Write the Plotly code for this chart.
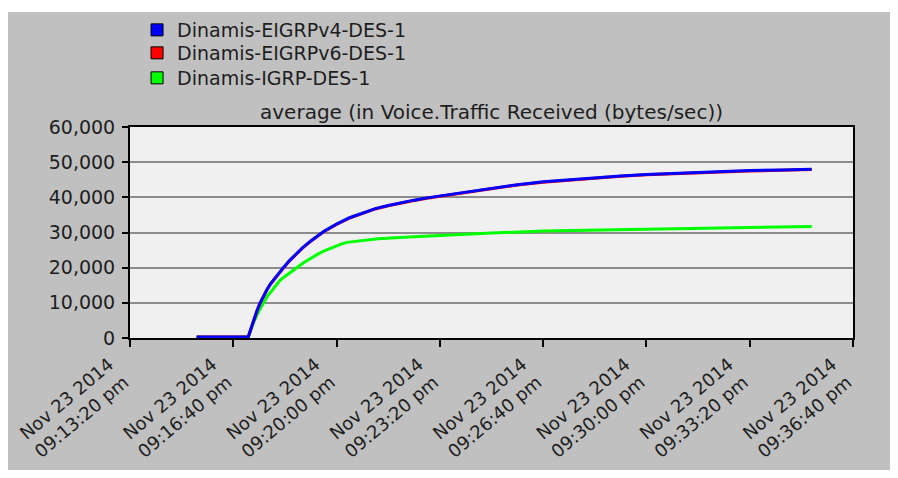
import pandas as pd
import plotly.graph_objects as go

# ---- data ----
start_time = "2014-11-23 21:13:20"

# elapsed seconds since start_time, and values (bytes/sec)
eigrp_elapsed_s = [129, 229, 234, 240, 246, 252, 258, 265, 272, 280, 288, 297, 308, 320, 335, 350, 362,
                   375, 388, 400, 425, 450, 475, 500, 525, 550, 575, 600, 650, 700, 750, 800, 850, 900,
                   950, 1000, 1050, 1100, 1150, 1200, 1260, 1320]
eigrpv4 = [300, 300, 2600, 5300, 7800, 10000, 11900, 13700, 15400, 16900, 18500, 20000, 21900, 23700,
           25800, 27600, 29000, 30300, 31400, 32400, 34200, 35600, 36800, 37700, 38500, 39200, 39850,
           40400, 41600, 42700, 43600, 44400, 45000, 45600, 46100, 46500, 46800, 47100, 47350, 47600,
           47800, 48000]
eigrpv6 = [300, 300, 2500, 5200, 7700, 9900, 11800, 13600, 15300, 16800, 18400, 19900, 21800, 23600,
           25700, 27500, 28900, 30200, 31300, 32300, 34100, 35500, 36700, 37600, 38400, 39100, 39750,
           40300, 41500, 42600, 43500, 44300, 44900, 45500, 46000, 46400, 46700, 47000, 47250, 47500,
           47700, 47900]

igrp_elapsed_s = [129, 229, 234, 240, 249, 258, 266, 275, 282, 290, 300, 311, 323, 336, 350, 362, 375,
                  388, 400, 410, 420, 440, 460, 480, 540, 600, 700, 800, 900, 1000, 1100, 1200, 1320]
igrp = [200, 200, 2200, 4600, 7500, 10000, 11900, 13500, 14900, 16300, 17500, 18800, 20000, 21400,
        22700, 23700, 24700, 25500, 26200, 26750, 27200, 27600, 27950, 28200, 28750, 29200, 29850,
        30400, 30650, 30900, 31100, 31300, 31700]

series_names = ["Dinamis-EIGRPv4-DES-1", "Dinamis-EIGRPv6-DES-1", "Dinamis-IGRP-DES-1"]
series_colors = ["#0000ff", "#ff0000", "#00ff00"]

tick_vals = ["2014-11-23 21:13:20", "2014-11-23 21:16:40", "2014-11-23 21:20:00", "2014-11-23 21:23:20",
             "2014-11-23 21:26:40", "2014-11-23 21:30:00", "2014-11-23 21:33:20", "2014-11-23 21:36:40"]
tick_text = ["Nov 23 2014<br>09:13:20 pm", "Nov 23 2014<br>09:16:40 pm", "Nov 23 2014<br>09:20:00 pm",
             "Nov 23 2014<br>09:23:20 pm", "Nov 23 2014<br>09:26:40 pm", "Nov 23 2014<br>09:30:00 pm",
             "Nov 23 2014<br>09:33:20 pm", "Nov 23 2014<br>09:36:40 pm"]

title_text = "average (in Voice.Traffic Received (bytes/sec))"

FONT = "DejaVu Sans, Verdana, sans-serif"
TXT = "#1e1e1e"

t0 = pd.Timestamp(start_time)
t_eigrp = [t0 + pd.Timedelta(seconds=s) for s in eigrp_elapsed_s]
t_igrp = [t0 + pd.Timedelta(seconds=s) for s in igrp_elapsed_s]

fig = go.Figure()

# data lines (draw green, red, then blue on top)
fig.add_trace(go.Scatter(x=t_igrp, y=igrp, mode="lines",
                         line=dict(color=series_colors[2], width=3),
                         showlegend=False, hoverinfo="skip"))
fig.add_trace(go.Scatter(x=t_eigrp, y=eigrpv6, mode="lines",
                         line=dict(color=series_colors[1], width=3),
                         showlegend=False, hoverinfo="skip"))
fig.add_trace(go.Scatter(x=t_eigrp, y=eigrpv4, mode="lines",
                         line=dict(color=series_colors[0], width=3),
                         showlegend=False, hoverinfo="skip"))

# legend entries with square swatches, one legend per row
legend_ids = ["legend", "legend2", "legend3"]
legend_tops = [0.9937, 0.9456, 0.8933]
for name, col, lid in zip(series_names, series_colors, legend_ids):
    fig.add_trace(go.Scatter(x=[None], y=[None], mode="markers", name=name, legend=lid,
                             marker=dict(symbol="square", size=12, color=col,
                                         line=dict(color="#000000", width=1))))

# background panels
fig.add_shape(type="rect", xref="paper", yref="paper", x0=-0.1687, x1=1.0512, y0=-0.6256, y1=1.545,
              fillcolor="#c0c0c0", line=dict(width=0), layer="below")
fig.add_shape(type="rect", xref="paper", yref="paper", x0=0, x1=1, y0=0, y1=1,
              fillcolor="#f0f0f0", line=dict(width=0), layer="below")

legend_common = dict(xref="container", yref="container", x=0.1437, xanchor="left", yanchor="top",
                     bgcolor="rgba(0,0,0,0)", font=dict(family=FONT, size=19, color=TXT))

fig.update_layout(
    width=898, height=478,
    margin=dict(l=122, r=53, t=119, b=148, autoexpand=False),
    paper_bgcolor="#ffffff",
    plot_bgcolor="#f0f0f0",
    font=dict(family=FONT, size=18, color=TXT),
    title=dict(text=title_text, x=0.5, xref="paper", xanchor="center",
               y=1.0, yref="paper", yanchor="bottom", pad=dict(b=8),
               font=dict(family=FONT, size=20, color=TXT)),
    legend=dict(y=legend_tops[0], **legend_common),
    legend2=dict(y=legend_tops[1], **legend_common),
    legend3=dict(y=legend_tops[2], **legend_common),
    showlegend=True,
)

fig.update_xaxes(
    type="date",
    range=[tick_vals[0], tick_vals[-1]],
    tickmode="array", tickvals=tick_vals, ticktext=tick_text,
    tickangle=-40, ticklabelshift=-21,
    showgrid=False, zeroline=False,
    showline=True, linecolor="#000000", linewidth=2, mirror=True,
    ticks="outside", ticklen=7, tickcolor="#000000", tickwidth=2,
    tickfont=dict(family=FONT, size=18, color=TXT),
)
fig.update_yaxes(
    range=[0, 60000], dtick=10000, tickformat=",",
    showgrid=True, gridcolor="#8c8c8c", gridwidth=1.5, zeroline=False,
    showline=True, linecolor="#000000", linewidth=2, mirror=True,
    ticks="outside", ticklen=6, tickcolor="#000000", tickwidth=2, ticklabelstandoff=3,
    tickfont=dict(family=FONT, size=19, color=TXT),
)

fig.write_html("out.html")
